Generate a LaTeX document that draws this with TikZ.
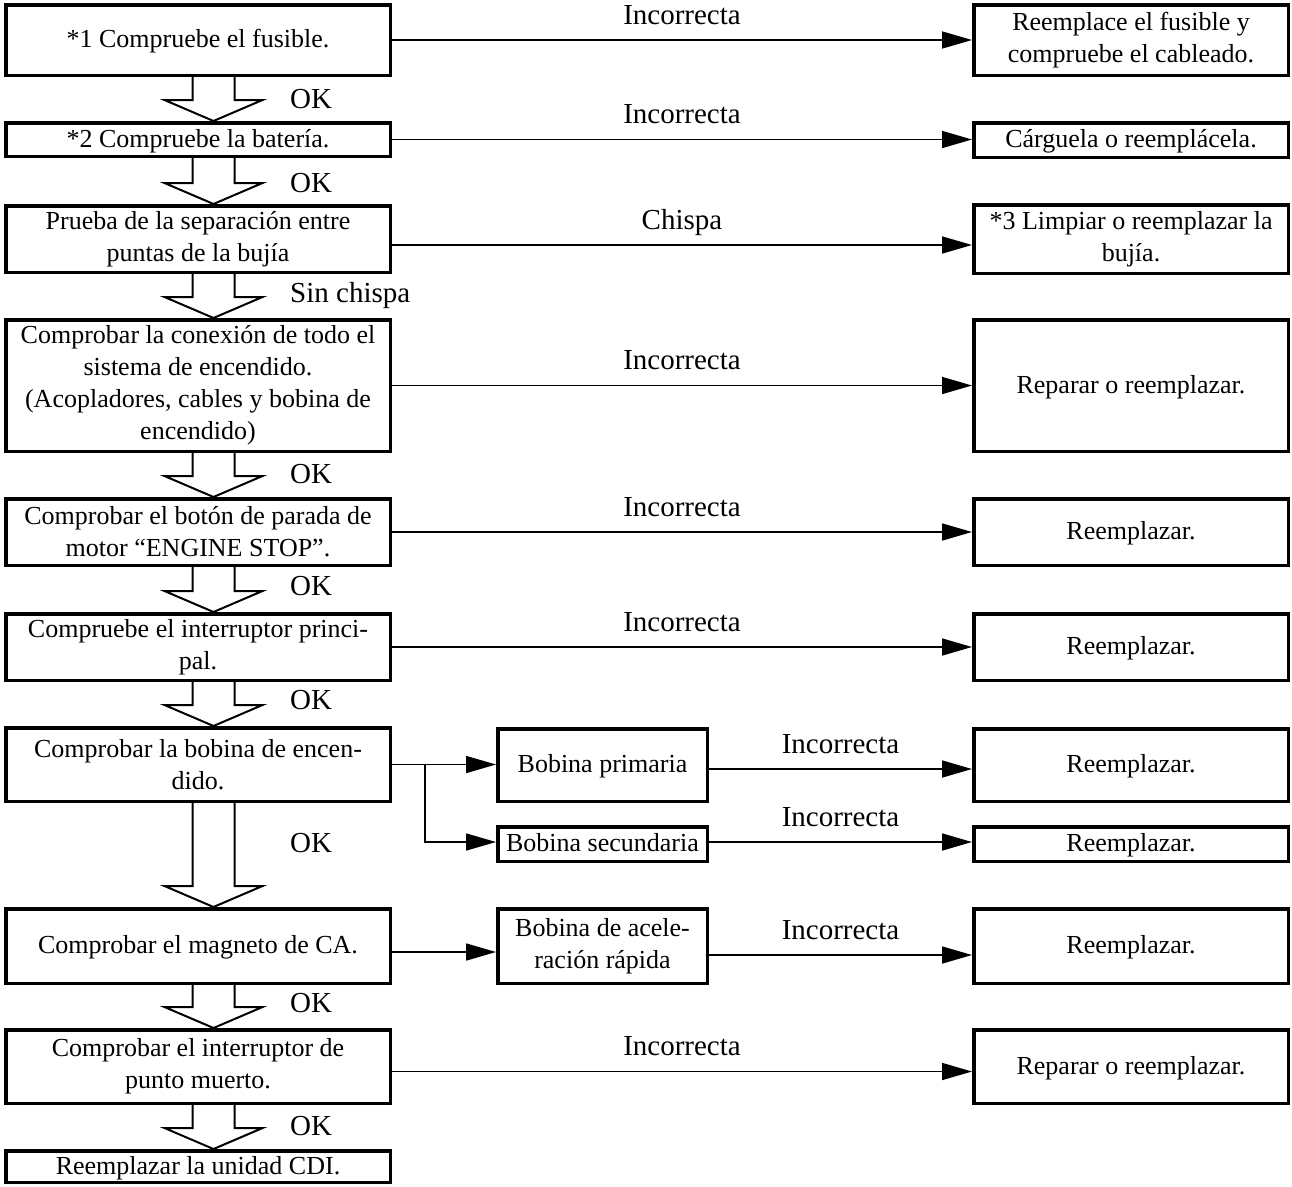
\documentclass[tikz,border=0pt]{standalone}
\usepackage{fontspec}
\setmainfont{Liberation Serif}
\usetikzlibrary{arrows.meta,calc}
\tikzset{
 bx/.style={draw, line width=3.5pt, inner sep=0pt, align=center, font=\fontsize{26}{32}\selectfont},
 lbox/.style={bx, minimum width=384.5pt},
 rbox/.style={bx, minimum width=314.5pt},
 mbox/.style={bx, minimum width=209.5pt},
 sl/.style={text height=18pt, text depth=3pt},
 conn/.style={line width=1.6pt, -{Triangle[length=30pt,width=17pt]}},
 lbl/.style={font=\fontsize{29}{34}\selectfont, inner sep=0pt},
 oklbl/.style={lbl, anchor=west, text height=19pt, text depth=0pt},
 edgelbl/.style={lbl, midway, anchor=base, yshift=16pt},
 blk/.style={draw, line width=2pt, line join=miter, fill=white},
}
\newcommand{\blkarrow}[2]{%
 \path[blk] let \p1=(#1.south), \p2=(#2.north) in
 (\x1-5.5pt,\y1) -- (\x1-5.5pt,\y2+21pt) -- (\x1-33.5pt,\y2+21pt) -- (\x1+15.5pt,\y2)
 -- (\x1+64.5pt,\y2+21pt) -- (\x1+36.5pt,\y2+21pt) -- (\x1+36.5pt,\y1);}
\begin{document}
\begin{tikzpicture}[x=1pt,y=-1pt]
\useasboundingbox (0,0) rectangle (1292,1186);
% left column
\node[lbox, sl, minimum height=70.5pt] (B1) at (198,40) {*1 Compruebe el fusible.};
\node[lbox, sl, minimum height=33.5pt] (B2) at (198,139.5) {*2 Compruebe la batería.};
\node[lbox, minimum height=66.5pt] (B3) at (198,239) {Prueba de la separación entre\\puntas de la bujía};
\node[lbox, minimum height=131.5pt] (B4) at (198,385.5) {Comprobar la conexión de todo el\\sistema de encendido.\\(Acopladores, cables y bobina de\\encendido)};
\node[lbox, minimum height=66.5pt] (B5) at (198,532) {Comprobar el botón de parada de\\motor “ENGINE STOP”.};
\node[lbox, minimum height=66.5pt] (B6) at (198,647) {Compruebe el interruptor princi-\\pal.};
\node[lbox, minimum height=73.5pt] (B7) at (198,764.5) {Comprobar la bobina de encen-\\dido.};
\node[lbox, sl, minimum height=74.5pt] (B8) at (198,946) {Comprobar el magneto de CA.};
\node[lbox, minimum height=73.5pt] (B9) at (198,1066.5) {Comprobar el interruptor de\\punto muerto.};
\node[lbox, sl, minimum height=31.5pt] (B10) at (198,1166.5) {Reemplazar la unidad CDI.};
% middle column
\node[mbox, sl, minimum height=72.5pt] (M1) at (602.5,765) {Bobina primaria};
\node[mbox, sl, minimum height=34.5pt] (M2) at (602.5,844) {Bobina secundaria};
\node[mbox, minimum height=74.5pt] (M3) at (602.5,946) {Bobina de acele-\\ración rápida};
% right column
\node[rbox, minimum height=70.5pt] (R1) at (1131,40) {Reemplace el fusible y\\compruebe el cableado.};
\node[rbox, sl, minimum height=34.5pt] (R2) at (1131,140) {Cárguela o reemplácela.};
\node[rbox, minimum height=68.5pt] (R3) at (1131,239) {*3 Limpiar o reemplazar la\\bujía.};
\node[rbox, sl, minimum height=131.5pt] (R4) at (1131,385.5) {Reparar o reemplazar.};
\node[rbox, sl, minimum height=66.5pt] (R5) at (1131,532) {Reemplazar.};
\node[rbox, sl, minimum height=66.5pt] (R6) at (1131,647) {Reemplazar.};
\node[rbox, sl, minimum height=72.5pt] (R7) at (1131,765) {Reemplazar.};
\node[rbox, sl, minimum height=34.5pt] (R8) at (1131,844) {Reemplazar.};
\node[rbox, sl, minimum height=74.5pt] (R9) at (1131,946) {Reemplazar.};
\node[rbox, sl, minimum height=73.5pt] (R10) at (1131,1066.5) {Reparar o reemplazar.};
% block arrows
\blkarrow{B1}{B2}
\blkarrow{B2}{B3}
\blkarrow{B3}{B4}
\blkarrow{B4}{B5}
\blkarrow{B5}{B6}
\blkarrow{B6}{B7}
\blkarrow{B7}{B8}
\blkarrow{B8}{B9}
\blkarrow{B9}{B10}
% OK labels
\node[oklbl] (ok1) at (290,99) {OK};
\node[oklbl] (ok2) at (290,183) {OK};
\node[oklbl] (sc) at (290,293) {Sin chispa};
\node[oklbl] (ok4) at (290,474) {OK};
\node[oklbl] (ok5) at (290,586) {OK};
\node[oklbl] (ok6) at (290,700) {OK};
\node[oklbl] (ok7) at (290,843) {OK};
\node[oklbl] (ok8) at (290,1003) {OK};
\node[oklbl] (ok9) at (290,1126) {OK};
% connectors
\draw[conn] (B1.east) -- (B1.east -| R1.west) node[edgelbl] {Incorrecta};
\draw[conn] (B2.east) -- (B2.east -| R2.west) node[edgelbl] {Incorrecta};
\draw[conn] ([yshift=-6pt]B3.east) -- ([yshift=-6pt]B3.east -| R3.west) node[edgelbl] {Chispa};
\draw[conn] (B4.east) -- (B4.east -| R4.west) node[edgelbl] {Incorrecta};
\draw[conn] (B5.east) -- (B5.east -| R5.west) node[edgelbl] {Incorrecta};
\draw[conn] (B6.east) -- (B6.east -| R6.west) node[edgelbl] {Incorrecta};
\draw[conn] (B7.east) -- (B7.east -| M1.west);
\coordinate (br) at ($(B7.east)+(33,0)$);
\draw[conn] (br) |- ([yshift=2pt]M2.west);
\draw[conn] ([yshift=-4pt]M1.east) -- ([yshift=-4pt]M1.east -| R7.west) node[edgelbl] {Incorrecta};
\draw[conn] ([yshift=2pt]M2.east) -- ([yshift=2pt]M2.east -| R8.west) node[edgelbl] {Incorrecta};
\draw[conn] ([yshift=-6pt]B8.east) -- ([yshift=-6pt]B8.east -| M3.west);
\draw[conn] ([yshift=-9pt]M3.east) -- ([yshift=-9pt]M3.east -| R9.west) node[edgelbl] {Incorrecta};
\draw[conn] ([yshift=-5pt]B9.east) -- ([yshift=-5pt]B9.east -| R10.west) node[edgelbl] {Incorrecta};
\end{tikzpicture}
\end{document}
